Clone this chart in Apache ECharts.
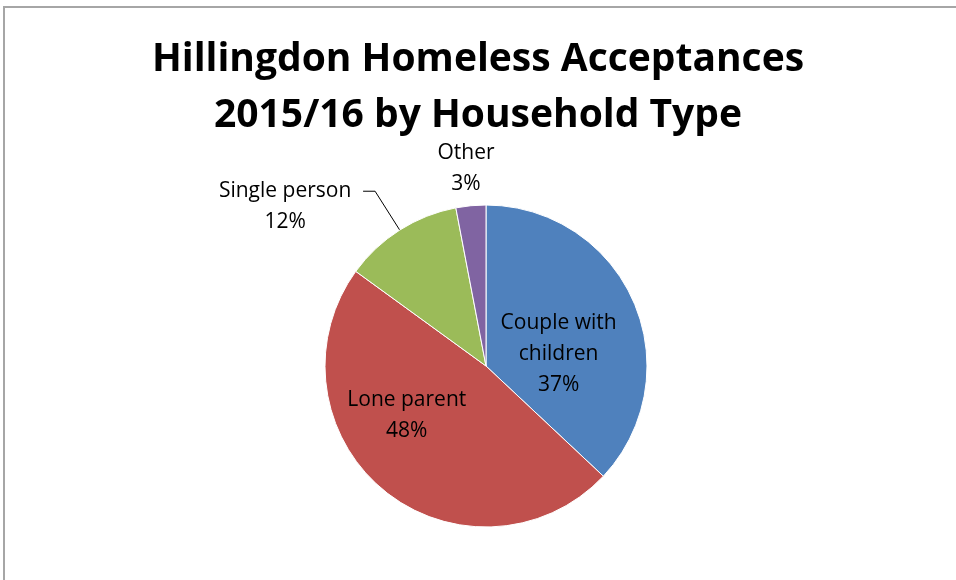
<!DOCTYPE html>
<html>
<head>
<meta charset="utf-8">
<script src="https://cdn.jsdelivr.net/npm/echarts@6/dist/echarts.min.js"></script>
<style>
  html, body { margin: 0; padding: 0; background: #fff; }
  #frame { position: absolute; left: 3px; top: 6px; width: 953px; height: 574px;
           border-left: 2px solid #a6a6a6; border-top: 2px solid #a6a6a6; box-sizing: border-box; }
  #chart { width: 956px; height: 580px; }
</style>
</head>
<body>
<div id="frame"></div>
<div id="chart"></div>
<script>
// Household types and their share of acceptances (%)
const categories = ['Couple with children', 'Lone parent', 'Single person', 'Other'];
const shares = [37, 48, 12, 3];
const sliceColors = ['#4F81BD', '#C0504D', '#9BBB59', '#8064A2'];
const labelNames = ['Couple with\nchildren', 'Lone parent', 'Single person', 'Other'];

const fontFamily = '"Open Sans", Lato, sans-serif';

const chart = echarts.init(document.getElementById('chart'), null, { renderer: 'canvas' });

const data = categories.map((name, i) => {
  const item = { name, value: shares[i], itemStyle: { color: sliceColors[i] } };
  const lines = (labelNames[i] + '\n' + shares[i] + '%').split('\n');
  const text = lines.map(l => '{t|' + l + '}').join('\n');
  if (i < 2) {
    item.label = { position: 'inside', formatter: text };
    item.labelLine = { show: false };
  } else if (i === 2) {
    item.label = { position: 'outside', formatter: text, padding: [31, 0, 0, 0],
                   rich: { t: { width: 146 } } };
    item.labelLine = { show: true, length: 46, length2: 12, lineStyle: { color: '#000', width: 1 } };
  } else {
    item.label = { position: 'outside', formatter: text };
    item.labelLine = { show: false };
  }
  return item;
});

chart.setOption({
  animation: false,
  backgroundColor: 'transparent',
  title: {
    text: 'Hillingdon Homeless Acceptances\n2015/16 by Household Type',
    left: 'center',
    top: 27,
    textStyle: { fontFamily, fontWeight: 'bold', fontSize: 39, lineHeight: 56, color: '#000' }
  },
  series: [{
    type: 'pie',
    center: [486, 366],
    radius: 161,
    startAngle: 90,
    clockwise: true,
    avoidLabelOverlap: false,
    itemStyle: { borderColor: '#fff', borderWidth: 1 },
    label: {
      color: '#000',
      fontFamily,
      fontSize: 21,
      rich: { t: { fontFamily, fontSize: 21, lineHeight: 31, color: '#000', width: 180, align: 'center' } }
    },
    labelLayout: function (params) {
      const i = params.dataIndex;
      if (i === 0) return { dx: -4, dy: 21 };
      if (i === 1) return { dx: -26, dy: -15 };
      if (i === 3) return { x: 466, y: 169, align: 'center', verticalAlign: 'middle' };
      return {};
    },
    data
  }]
});
</script>
</body>
</html>
